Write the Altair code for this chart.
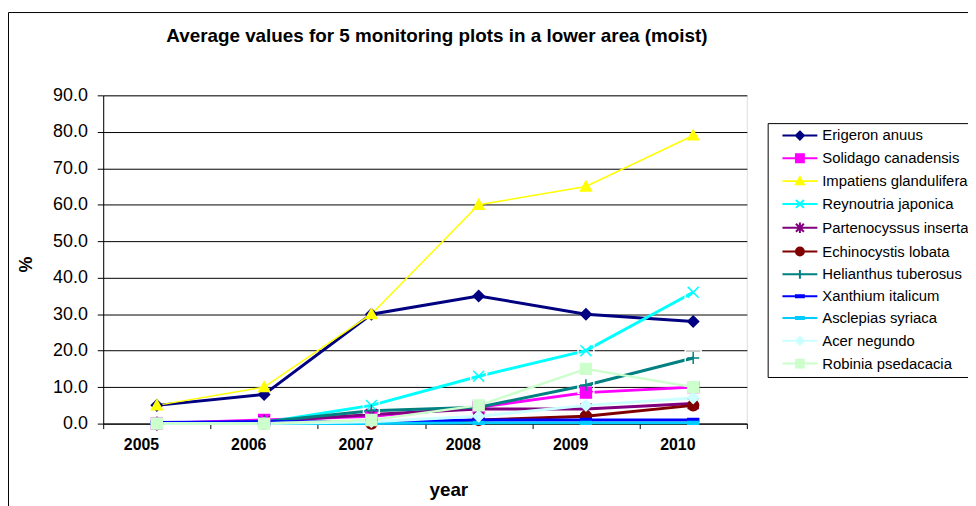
import altair as alt
import pandas as pd

years = [2005, 2006, 2007, 2008, 2009, 2010]

names = [
    "Erigeron anuus", "Solidago canadensis", "Impatiens glandulifera",
    "Reynoutria japonica", "Partenocyssus inserta", "Echinocystis lobata",
    "Helianthus tuberosus", "Xanthium italicum", "Asclepias syriaca",
    "Acer negundo", "Robinia psedacacia",
]

erigeron = [5, 8, 30, 35, 30, 28]
solidago = [0, 1, 2, 4.5, 8.5, 10]
impatiens = [5, 10, 30, 60, 65, 79]
reynoutria = [0, 0.3, 5, 13, 20, 36]
partenocyssus = [0, 0.5, 2.5, 4, 4, 5.5]
echinocystis = [0, 0, 0, 1, 2, 5]
helianthus = [0, 0.5, 3.5, 4.5, 10.5, 18]
xanthium = [0.3, 0.5, 0.5, 1, 1, 1]
asclepias = [0, 0, 0, 0.2, 0.2, 0.2]
acer = [0, 0, 0.5, 2, 5, 7]
robinia = [0, 0, 1, 5, 15, 10]

series_values = [erigeron, solidago, impatiens, reynoutria, partenocyssus,
                 echinocystis, helianthus, xanthium, asclepias, acer, robinia]

y_ticks = [0, 10, 20, 30, 40, 50, 60, 70, 80, 90]

# styles
colors = ["#000080", "#FF00FF", "#FFFF00", "#00FFFF", "#800080", "#800000",
          "#008080", "#0000FF", "#00CCFF", "#CCFFFF", "#CCFFCC"]
widths = [3, 3, 1.5, 3, 3, 3, 3, 3, 3, 3, 2.5]

diamond = "M0,-1L1,0L0,1L-1,0Z"
square = "M-1,-1H1V1H-1Z"
triangle = "M0,-1L1,0.8L-1,0.8Z"
xmark = "M-1,-1L1,1M-1,1L1,-1"
aster = "M-1,-1L1,1M-1,1L1,-1M0,-1.3V1.3"
circle = "M-1,0A1,1 0 1,1 1,0A1,1 0 1,1 -1,0Z"
plus = "M-1.1,0H1.1M0,-1.1V1.1"
dash = "M-1,-0.25H1V0.25H-1Z"
markers = [diamond, square, triangle, xmark, aster, circle, plus, dash, dash,
           diamond, square]
legend_paths = ["M-4.4,0H4.4" + m for m in markers]

rows = []
for n, vals in zip(names, series_values):
    for yr, v in zip(years, vals):
        rows.append({"series": n, "year": yr, "value": v})
df = pd.DataFrame(rows)

FONT = "Liberation Sans"

x_enc = alt.X(
    "year:O",
    bandPosition=0.5,
    scale=alt.Scale(type="band", paddingInner=0, paddingOuter=0),
    axis=alt.Axis(
        title="year", tickBand="extent", labelAngle=0, labelOffset=-16,
        labelFont=FONT, labelFontSize=16, labelFontWeight="bold",
        labelColor="black", labelPadding=8, tickSize=5, tickColor="black",
        domainColor="black", grid=False, titleFont=FONT, titleFontSize=19,
        titleFontWeight="bold", titleColor="black", titleX=348, titleY=72,
        titleBaseline="alphabetic",
    ),
)
y_enc = alt.Y(
    "value:Q",
    scale=alt.Scale(domain=[0, 90], nice=False),
    axis=alt.Axis(
        title="%", values=y_ticks, format=".1f", labelFont=FONT,
        labelFontSize=18, labelColor="black", labelPadding=10, tickSize=6,
        tickColor="black", domainColor="black", gridColor="black",
        gridWidth=1, grid=True, titleFont=FONT, titleFontSize=18,
        titleFontWeight="bold", titleColor="black", titleX=-68, titleY=170,
    ),
)

frame = alt.Chart(pd.DataFrame({"a": [0]})).mark_rect(
    fillOpacity=0, stroke="black", strokeWidth=1, clip=False
).encode(
    x=alt.value(-95.5), y=alt.value(-83.5), x2=alt.value(3000), y2=alt.value(3000)
)

lines = alt.Chart(df).mark_line().encode(
    x=x_enc, y=y_enc,
    color=alt.Color("series:N", scale=alt.Scale(domain=names, range=colors), legend=None),
    strokeWidth=alt.StrokeWidth(
        "series:N", scale=alt.Scale(type="ordinal", domain=names, range=widths), legend=None
    ),
)

boxes = alt.Chart(df).transform_filter(
    alt.FieldOneOfPredicate(field="series", oneOf=["Reynoutria japonica", "Helianthus tuberosus"])
).transform_filter("datum.value >= 5").mark_point(
    shape="square", filled=False, stroke="white", strokeWidth=1.5, size=256, opacity=1
).encode(x=x_enc, y=y_enc)

points = alt.Chart(df).mark_point(size=121, strokeWidth=1.5, opacity=1).encode(
    x=x_enc, y=y_enc,
    shape=alt.Shape("series:N", scale=alt.Scale(domain=names, range=markers), legend=None),
    fill=alt.Fill("series:N", scale=alt.Scale(domain=names, range=colors), legend=None),
    stroke=alt.Stroke("series:N", scale=alt.Scale(domain=names, range=colors), legend=None),
)

leg = alt.Legend(
    title=None, orient="none", legendX=670, legendY=28, direction="vertical",
    strokeColor="black", fillColor="white", padding=5, labelFont=FONT,
    labelFontSize=15, labelColor="black", symbolSize=64, symbolOffset=20,
    labelOffset=15, rowPadding=6, symbolStrokeWidth=2, labelLimit=400,
    symbolOpacity=1,
)

legend_layer = alt.Chart(pd.DataFrame({"series": names})).mark_point(
    size=64, strokeWidth=2, opacity=1, clip=True
).encode(
    x=alt.value(-5000), y=alt.value(-5000),
    shape=alt.Shape("series:N", scale=alt.Scale(domain=names, range=legend_paths), legend=leg),
    fill=alt.Fill("series:N", scale=alt.Scale(domain=names, range=colors), legend=leg),
    stroke=alt.Stroke("series:N", scale=alt.Scale(domain=names, range=colors), legend=leg),
)

chart = alt.layer(frame, lines, boxes, points, legend_layer).resolve_scale(
    shape="independent", fill="independent", stroke="independent"
).properties(
    width=649, height=331,
    autosize=alt.AutoSizeParams(type="none"),
    padding={"left": 96, "top": 86, "right": 223, "bottom": 81},
    title=alt.TitleParams(
        text="Average values for 5 monitoring plots in a lower area (moist)",
        font=FONT, fontSize=19, fontWeight="bold", color="black",
        anchor="middle", dx=12, offset=-49, baseline="alphabetic",
    ),
).configure_view(fill="#C0C0C0", stroke="#808080", strokeWidth=1
).configure(background="white")

chart.save("out.html", embed_options={"renderer": "svg", "actions": False})
